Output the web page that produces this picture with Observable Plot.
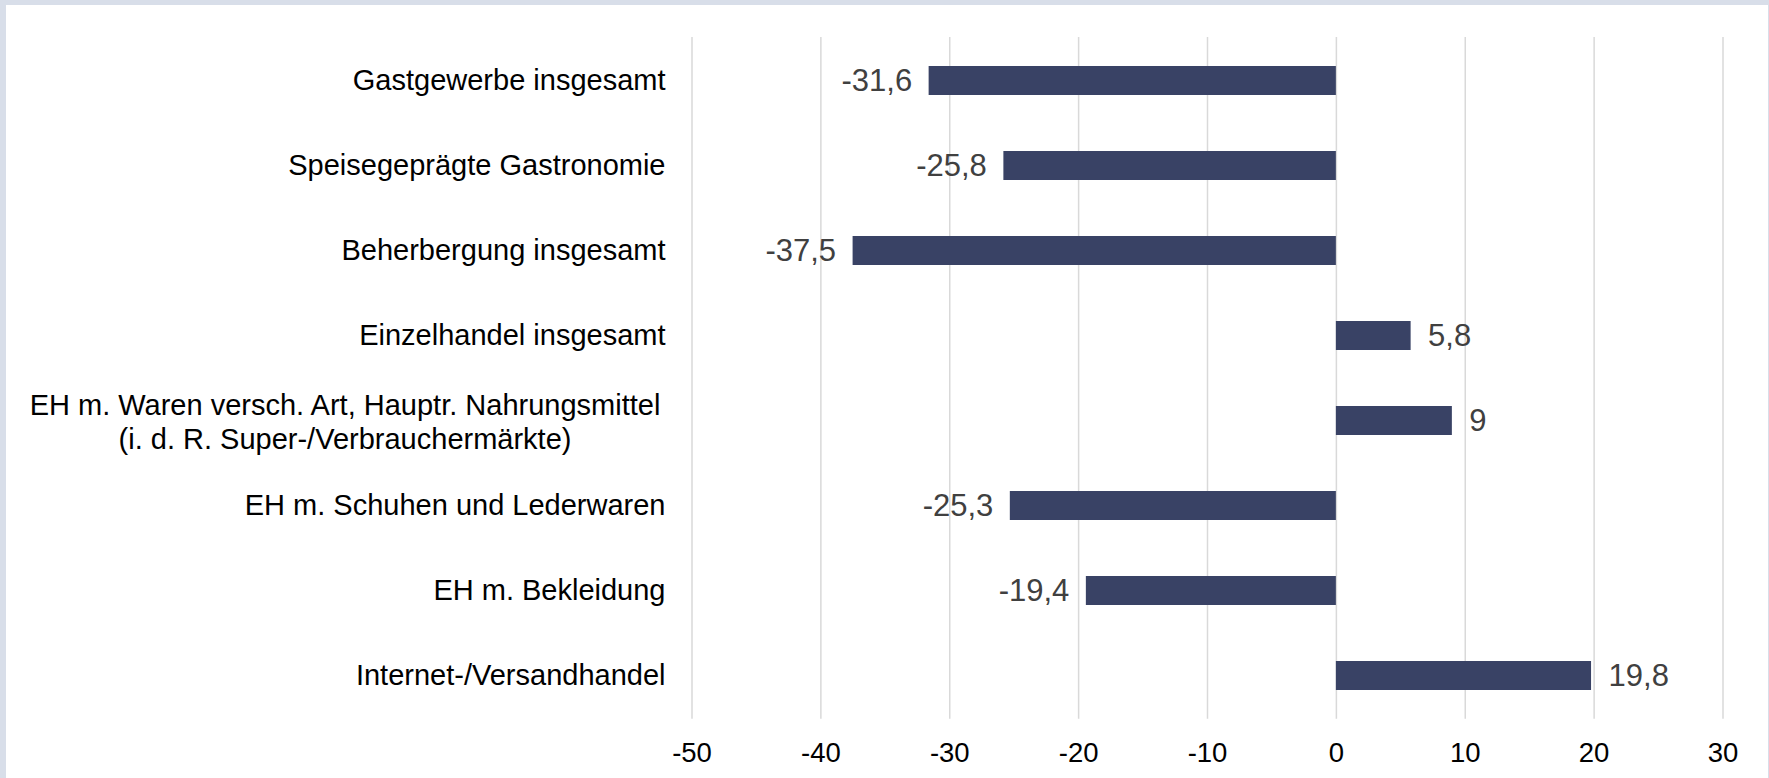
<!DOCTYPE html>
<html><head><meta charset="utf-8">
<script src="https://cdn.jsdelivr.net/npm/d3@7"></script>
<script src="https://cdn.jsdelivr.net/npm/@observablehq/plot@0.6"></script>
<style>
html,body{margin:0;padding:0;background:#fff;}
#frame{width:1762px;height:773px;border-top:5px solid #d8dee9;border-left:6px solid #d8dee9;border-right:1px solid #d8dee9;background:#fff;overflow:hidden}
</style></head><body><div id="frame"></div>
<script>
const categories = [
  "Gastgewerbe insgesamt",
  "Speisegeprägte Gastronomie",
  "Beherbergung insgesamt",
  "Einzelhandel insgesamt",
  "EH m. Waren versch. Art, Hauptr. Nahrungsmittel\n(i. d. R. Super-/Verbrauchermärkte)",
  "EH m. Schuhen und Lederwaren",
  "EH m. Bekleidung",
  "Internet-/Versandhandel"
];
const values = [-31.6, -25.8, -37.5, 5.8, 9, -25.3, -19.4, 19.8];
const xTicks = [-50, -40, -30, -20, -10, 0, 10, 20, 30];

const multiLine = categories[4];
const data = categories.map((c, i) => ({category: c, value: values[i]}));
const fmt = v => String(v).replace(".", ",");
const font = "'Liberation Sans', Arial, sans-serif";

const chart = Plot.plot({
  width: 1762, height: 773,
  marginLeft: 685.5, marginRight: 45.5, marginTop: 32, marginBottom: 59.3,
  style: {fontFamily: font, background: "#fff", color: "#000"},
  x: {domain: [-50, 30], ticks: xTicks},
  y: {domain: categories, paddingInner: 0.656, paddingOuter: 0.328},
  marks: [
    Plot.gridX(xTicks, {stroke: "#d9d9d9", strokeOpacity: 1, strokeWidth: 1.5}),
    Plot.barX(data, {y: "category", x: "value", fill: "#394265"}),
    Plot.text(data.filter(d => d.value < 0), {y: "category", x: "value", text: d => fmt(d.value), textAnchor: "end", dx: -17, fontSize: 31, fill: "#404040"}),
    Plot.text(data.filter(d => d.value >= 0), {y: "category", x: "value", text: d => fmt(d.value), textAnchor: "start", dx: 17, fontSize: 31, fill: "#404040"}),
    Plot.axisX(xTicks, {tickSize: 0, tickPadding: 23, fontSize: 27.5, tickFormat: d => String(d), label: null}),
    Plot.axisY(categories.filter(c => c !== multiLine), {tickSize: 0, tickPadding: 26.5, fontSize: 29, label: null}),
    Plot.axisY([multiLine], {tickSize: 0, tickPadding: 26.5, fontSize: 29, textAnchor: "middle", dx: -320.5, lineHeight: 1.17, label: null})
  ]
});
document.getElementById("frame").appendChild(chart);
</script>
</body></html>
